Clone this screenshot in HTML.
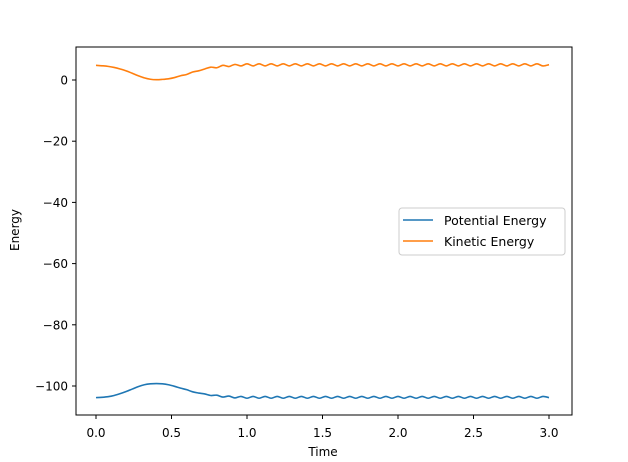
<!DOCTYPE html>
<html><head><meta charset="utf-8"><style>
body{margin:0;background:#fff}
svg{display:block;font-family:"DejaVu Sans","Liberation Sans",sans-serif}
</style></head><body>
<svg id="chart" width="628" height="462" viewBox="0 0 628 462">
<rect x="0" y="0" width="628" height="462" fill="#fff"/>
<g id="series"></g>
<rect x="76" y="47" width="496" height="368" fill="none" stroke="#000" stroke-width="1"/>
<g id="xticks"></g><g id="yticks"></g>
<text x="323" y="456" font-size="12" text-anchor="middle">Time</text>
<text transform="translate(19,230) rotate(-90)" font-size="12" text-anchor="middle">Energy</text>
<g>
<rect x="399" y="208" width="166" height="47" rx="3" fill="#fff" fill-opacity="0.8" stroke="#ccc"/>
<line x1="403" y1="220" x2="433" y2="220" stroke="#1f77b4" stroke-width="1.6"/>
<text x="444" y="225" font-size="12.5">Potential Energy</text>
<line x1="403" y1="241" x2="433" y2="241" stroke="#ff7f0e" stroke-width="1.6"/>
<text x="444" y="246" font-size="12.5">Kinetic Energy</text>
</g>
</svg>
<script>
const xTicks=[0.0,0.5,1.0,1.5,2.0,2.5,3.0];
const yTicks=[0,-20,-40,-60,-80,-100];
const kinetic=[4.8,4.65,4.45,4.1,3.6,3.0,2.2,1.4,0.7,0.25,0.1,0.2,0.4,0.8,1.4,1.8,2.6,3.0,3.6,4.2,4.0,4.8,4.4,5.1,
4.6,5.3,4.6,5.3,4.6,5.3,4.6,5.3,4.6,5.3,4.6,5.3,4.6,5.3,4.6,5.3,4.6,5.3,4.6,5.3,4.6,5.3,4.6,5.3,4.6,5.3,
4.6,5.3,4.6,5.3,4.6,5.3,4.6,5.3,4.6,5.3,4.6,5.3,4.6,5.3,4.6,5.3,4.6,5.3,4.6,5.3,4.6,5.3,4.6,5.3,4.6,5.0];
const potential=[-103.8,-103.7,-103.5,-103.1,-102.5,-101.8,-101.0,-100.2,-99.6,-99.3,-99.2,-99.3,-99.6,-100.1,-100.7,-101.2,-101.9,-102.3,-102.6,-103.1,-103.0,-103.6,-103.3,-103.9,
-103.4,-104.0,-103.4,-104.0,-103.4,-104.0,-103.4,-104.0,-103.4,-104.0,-103.4,-104.0,-103.4,-104.0,-103.4,-104.0,-103.4,-104.0,-103.4,-104.0,-103.4,-104.0,-103.4,-104.0,-103.4,-104.0,
-103.4,-104.0,-103.4,-104.0,-103.4,-104.0,-103.4,-104.0,-103.4,-104.0,-103.4,-104.0,-103.4,-104.0,-103.4,-104.0,-103.4,-104.0,-103.4,-104.0,-103.4,-104.0,-103.4,-104.0,-103.4,-103.8];
const dt=0.04;
const NS="http://www.w3.org/2000/svg";
function xs(t){return 96+t*151;}
function ys(e){return 80-e*3.06;}
function mk(tag,attrs,parent){const el=document.createElementNS(NS,tag);for(const k in attrs)el.setAttribute(k,attrs[k]);parent.appendChild(el);return el;}
const gx=document.getElementById('xticks'),gy=document.getElementById('yticks'),gs=document.getElementById('series');
xTicks.forEach(v=>{const x=xs(v);
const l=mk('line',{x1:x,y1:415,x2:x,y2:419,stroke:'#000'},gx);


const t=mk('text',{x:x,y:437,'font-size':12,'text-anchor':'middle'},gx);t.textContent=v.toFixed(1);

});
yTicks.forEach(v=>{const y=ys(v);
const l=mk('line',{x1:72,y1:y,x2:76,y2:y,stroke:'#000'},gy);


const t=mk('text',{x:68,y:y+4.5,'font-size':12,'text-anchor':'end'},gy);t.textContent=v<0?'\u2212'+Math.abs(v):String(v);

});
function path(arr){let p=arr.map((e,i)=>[xs(i*dt),ys(e)]);
let d='M'+p[0][0]+','+p[0][1];
for(let i=0;i<p.length-1;i++){const p0=p[Math.max(0,i-1)],p1=p[i],p2=p[i+1],p3=p[Math.min(p.length-1,i+2)];
d+=' C'+(p1[0]+(p2[0]-p0[0])/6)+','+(p1[1]+(p2[1]-p0[1])/6)+' '+(p2[0]-(p3[0]-p1[0])/6)+','+(p2[1]-(p3[1]-p1[1])/6)+' '+p2[0]+','+p2[1];}
return d;}
const pp=mk('path',{d:path(potential),fill:'none',stroke:'#1f77b4','stroke-width':1.6},gs);


const kp=mk('path',{d:path(kinetic),fill:'none',stroke:'#ff7f0e','stroke-width':1.6},gs);


</script>
</body></html>
